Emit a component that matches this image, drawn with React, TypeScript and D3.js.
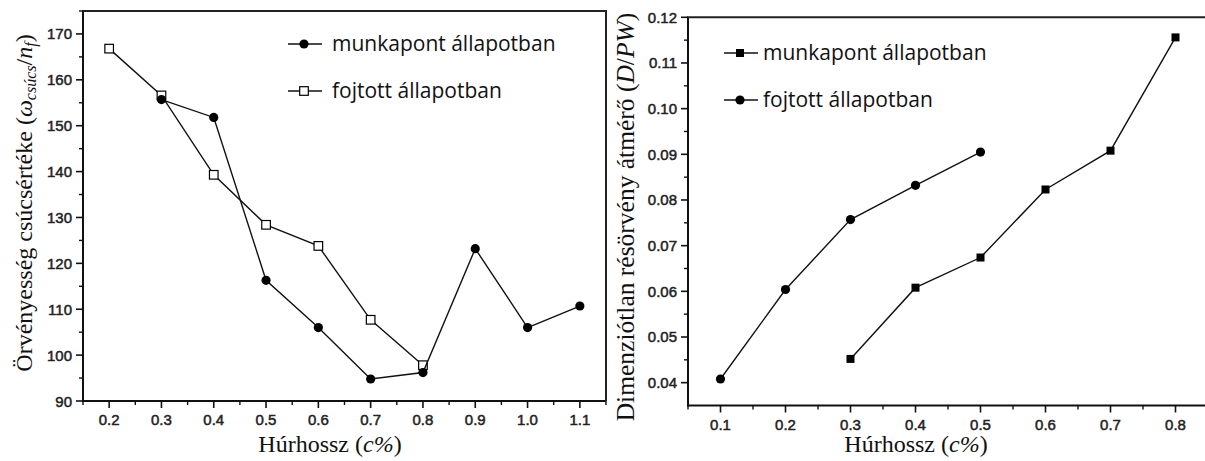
import React from "react";
import * as d3 from "d3";

// Left panel: peak vorticity vs chord length
const leftWorkX = [0.3, 0.4, 0.5, 0.6, 0.7, 0.8, 0.9, 1.0, 1.1];
const leftWorkY = [155.7, 151.8, 116.3, 106.0, 94.8, 96.2, 123.2, 106.0, 110.7];
const leftThrX = [0.2, 0.3, 0.4, 0.5, 0.6, 0.7, 0.8];
const leftThrY = [166.8, 156.6, 139.3, 128.4, 123.8, 107.7, 97.8];
const leftXTicks = [0.2, 0.3, 0.4, 0.5, 0.6, 0.7, 0.8, 0.9, 1.0, 1.1];
const leftYTicks = [90, 100, 110, 120, 130, 140, 150, 160, 170];

// Right panel: dimensionless gap-vortex diameter vs chord length
const rightWorkX = [0.3, 0.4, 0.5, 0.6, 0.7, 0.8];
const rightWorkY = [0.0452, 0.0608, 0.0674, 0.0823, 0.0908, 0.1156];
const rightThrX = [0.1, 0.2, 0.3, 0.4, 0.5];
const rightThrY = [0.0408, 0.0604, 0.0757, 0.0832, 0.0905];
const rightXTicks = [0.1, 0.2, 0.3, 0.4, 0.5, 0.6, 0.7, 0.8];
const rightYTicks = [0.04, 0.05, 0.06, 0.07, 0.08, 0.09, 0.1, 0.11, 0.12];

const legendWork = "munkapont állapotban";
const legendThr = "fojtott állapotban";

const SANS = "'Liberation Sans', Arial, sans-serif";
const SERIF = "'Liberation Serif', 'Times New Roman', serif";
const LEGEND_FONT = "'Open Sans', 'Noto Sans', sans-serif";

type Scale = d3.ScaleLinear<number, number>;

function Marker({ kind, x, y }: { kind: string; x: number; y: number }) {
  if (kind === "circle") return <circle cx={x} cy={y} r={4.6} fill="#000" />;
  if (kind === "square") return <rect x={x - 4} y={y - 4} width={8} height={8} fill="#000" />;
  return <rect x={x - 4.3} y={y - 4.3} width={8.6} height={8.6} fill="#fff" stroke="#000" strokeWidth={1.2} />;
}

function Series({ xs, ys, x, y, kind }: { xs: number[]; ys: number[]; x: Scale; y: Scale; kind: string }) {
  const pts: [number, number][] = xs.map((v, i) => [v, ys[i]]);
  const line = d3.line<[number, number]>().x((d) => x(d[0])).y((d) => y(d[1]));
  return (
    <g>
      <path d={line(pts) || ""} fill="none" stroke="#111" strokeWidth={1.4} />
      {pts.map((p, i) => (
        <Marker key={i} kind={kind} x={x(p[0])} y={y(p[1])} />
      ))}
    </g>
  );
}

function Axes({
  x, y, xTicks, yTicks, xMinor, yMinor, xFmt, yFmt, boxRight,
}: {
  x: Scale; y: Scale; xTicks: number[]; yTicks: number[]; xMinor: number; yMinor: number;
  xFmt: (v: number) => string; yFmt: (v: number) => string; boxRight: boolean;
}) {
  const [x0, x1] = x.range();
  const [y0, y1] = y.range();
  const xMinorTicks = xTicks.map((t) => t + xMinor).concat([xTicks[0] - xMinor]).filter((t) => x(t) >= x0 - 0.5 && x(t) <= x1 + 0.5);
  const yMinorTicks = yTicks.map((t) => t + yMinor).filter((t) => y(t) >= y1 - 0.5 && y(t) <= y0 + 0.5);
  const labelStyle = { fontFamily: SANS, fontSize: 15, fill: "#222", stroke: "#222", strokeWidth: 0.5 };
  return (
    <g>
      {/* frame */}
      <line x1={x0} x2={x0} y1={y0 + 1} y2={y1} stroke="#111" strokeWidth={2} />
      <line x1={x0 - 1} x2={x1} y1={y0} y2={y0} stroke="#111" strokeWidth={2} />
      <line x1={x0 - 1} x2={x1 + (boxRight ? 1 : 0)} y1={y1} y2={y1} stroke="#222" strokeWidth={2} />
      {boxRight && <line x1={x1} x2={x1} y1={y1} y2={y0} stroke="#222" strokeWidth={2} />}
      {xTicks.map((t) => (
        <g key={"xt" + t}>
          <line x1={x(t)} x2={x(t)} y1={y0} y2={y0 + 7} stroke="#111" strokeWidth={1.6} />
          <text x={x(t)} y={y0 + 24} textAnchor="middle" style={labelStyle}>
            {xFmt(t)}
          </text>
        </g>
      ))}
      {xMinorTicks.map((t) => (
        <line key={"xm" + t} x1={x(t)} x2={x(t)} y1={y0} y2={y0 + 4} stroke="#111" strokeWidth={1.4} />
      ))}
      {yTicks.map((t) => (
        <g key={"yt" + t}>
          <line x1={x0} x2={x0 - 7} y1={y(t)} y2={y(t)} stroke="#111" strokeWidth={1.6} />
          <text x={x0 - 11} y={y(t) + 5.5} textAnchor="end" style={labelStyle}>
            {yFmt(t)}
          </text>
        </g>
      ))}
      {yMinorTicks.map((t) => (
        <line key={"ym" + t} x1={x0} x2={x0 - 4} y1={y(t)} y2={y(t)} stroke="#111" strokeWidth={1.4} />
      ))}
    </g>
  );
}

function LegendRow({ x, y, kind, label, gap }: { x: number; y: number; kind: string; label: string; gap: number }) {
  return (
    <g>
      <line x1={x} x2={x + 34} y1={y} y2={y} stroke="#111" strokeWidth={1.4} />
      <Marker kind={kind} x={x + 16} y={y} />
      <text x={x + 34 + gap} y={y + 6.5} fontFamily={LEGEND_FONT} fontSize={21} fill="#111">
        {label}
      </text>
    </g>
  );
}

export default function App() {
  const lx = d3.scaleLinear().domain([0.15, 1.15]).range([83, 606]);
  const ly = d3.scaleLinear().domain([90, 175]).range([401, 11]);
  const rx = d3.scaleLinear().domain([0.05, 0.85]).range([688, 1208]);
  const ry = d3.scaleLinear().domain([0.035, 0.12]).range([405.5, 17.3]);

  return (
    <svg
      width={1205}
      height={461}
      style={{ position: "absolute", left: 0, top: 0, background: "#fff" }}
    >
      <rect width={1205} height={461} fill="#fff" />

      {/* left panel */}
      <Axes x={lx} y={ly} xTicks={leftXTicks} yTicks={leftYTicks} xMinor={0.05} yMinor={5}
        xFmt={d3.format(".1f")} yFmt={d3.format("d")} boxRight={true} />
      <Series xs={leftThrX} ys={leftThrY} x={lx} y={ly} kind="open" />
      <Series xs={leftWorkX} ys={leftWorkY} x={lx} y={ly} kind="circle" />
      <LegendRow x={288} y={44} kind="circle" label={legendWork} gap={10} />
      <LegendRow x={288} y={91} kind="open" label={legendThr} gap={10} />
      <text transform="translate(32,203) rotate(-90)" textAnchor="middle" fontFamily={SERIF} fontSize={24} fill="#111">
        Örvényesség csúcsértéke (
        <tspan fontStyle="italic">ω</tspan>
        <tspan fontStyle="italic" fontSize={16} dy={4}>csúcs</tspan>
        <tspan dy={-4}>/</tspan>
        <tspan fontStyle="italic">n</tspan>
        <tspan fontStyle="italic" fontSize={16} dy={4}>f</tspan>
        <tspan dy={-4}>)</tspan>
      </text>
      <text x={330} y={452} textAnchor="middle" fontFamily={SERIF} fontSize={24} fill="#111">
        Húrhossz (<tspan fontStyle="italic">c%</tspan>)
      </text>

      {/* right panel */}
      <Axes x={rx} y={ry} xTicks={rightXTicks} yTicks={rightYTicks} xMinor={0.05} yMinor={0.005}
        xFmt={d3.format(".1f")} yFmt={d3.format(".2f")} boxRight={false} />
      <Series xs={rightWorkX} ys={rightWorkY} x={rx} y={ry} kind="square" />
      <Series xs={rightThrX} ys={rightThrY} x={rx} y={ry} kind="circle" />
      <LegendRow x={724} y={53} kind="square" label={legendWork} gap={5} />
      <LegendRow x={724} y={100} kind="circle" label={legendThr} gap={5} />
      <text transform="translate(634,217) rotate(-90)" textAnchor="middle" fontFamily={SERIF} fontSize={25.5} fill="#111">
        Dimenziótlan résörvény átmérő (<tspan fontStyle="italic">D</tspan>/<tspan fontStyle="italic">PW</tspan>)
      </text>
      <text x={916} y={452} textAnchor="middle" fontFamily={SERIF} fontSize={24} fill="#111">
        Húrhossz (<tspan fontStyle="italic">c%</tspan>)
      </text>
    </svg>
  );
}
